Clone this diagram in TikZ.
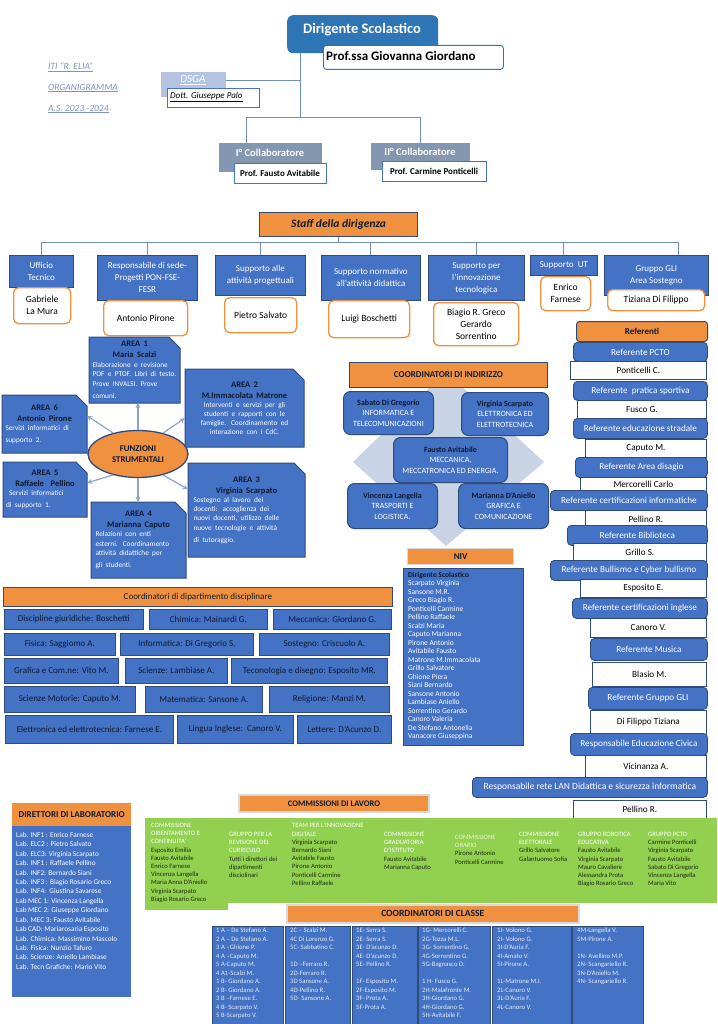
\documentclass[tikz,border=0pt]{standalone}
\usepackage{fontspec}
\setmainfont{Carlito}
\usetikzlibrary{shapes.geometric,arrows.meta,calc}
\definecolor{myblue}{HTML}{4472C4}
\definecolor{navy}{HTML}{2F4B7C}
\definecolor{myorange}{HTML}{F0913F}
\definecolor{mygreen}{HTML}{92D050}
\definecolor{headc}{HTML}{101A30}
\definecolor{dirblue}{HTML}{2E75B6}
\definecolor{slate}{HTML}{8497B0}
\definecolor{dsgac}{HTML}{B4C4E0}
\definecolor{wirec}{HTML}{6F8FC4}
\definecolor{crossc}{HTML}{C9D3E6}
\definecolor{lightgrey}{HTML}{D9D9D9}
\definecolor{arrowc}{HTML}{8EA3C6}
\definecolor{labc}{HTML}{7F93C0}
\definecolor{gname}{HTML}{1E2A10}
\definecolor{ktc}{HTML}{E4ECF7}
\definecolor{paley}{HTML}{EEF5D0}
\newcommand\myfs[2]{\fontsize{#1}{#2}\selectfont}
\newcommand\mybox[7]{\node[#2,anchor=north west,minimum width={(#5)-(#3)},minimum height={(#6)-(#4)}] (#1) at (#3,#4) {#7};}
\newcommand\snipbox[7]{%
  \path[areaf] (#2,#3) -- ({#4-11},#3) -- (#4,{#3+11}) -- (#4,#5) -- (#2,#5) -- cycle;
  \node[inner sep=0pt,minimum width={(#4)-(#2)},minimum height={(#5)-(#3)},text width=#6pt,text=white] (#1) at ({(#2+#4)/2},{(#3+#5)/2}) {#7};}
\newcommand\jl[1]{\hbox to\hsize{#1}}
\newcommand\hdw[1]{\textcolor{white}{#1}}
\begin{document}
\begin{tikzpicture}[x=1pt,y=-1pt,
  every node/.style={inner sep=1pt},
  wire/.style={draw=wirec,line width=0.9pt},
  blueb/.style={draw=navy,fill=myblue,line width=0.8pt,text=white,align=center},
  whiteb/.style={draw=navy,fill=white,line width=0.8pt,text=black,align=center},
  orangeb/.style={draw=navy,fill=myorange,line width=0.8pt,text=headc,align=center},
  staffb/.style={blueb,font=\myfs{9}{12}},
  staffn/.style={fill=white,draw=myorange,line width=1.3pt,rounded corners=5pt,text=black,align=center,font=\myfs{9.5}{12}},
  areaf/.style={fill=myblue,draw=navy,line width=1pt},
  fsarr/.style={draw=arrowc,line width=1.2pt,-{Stealth[length=5pt,width=5pt]}},
  cib/.style={blueb,rounded corners=7pt,line width=1pt,font=\myfs{8}{10.5}},
  refb/.style={blueb,rounded corners=4pt,font=\myfs{9.2}{10}},
  refw/.style={whiteb,font=\myfs{9.2}{10}},
  dipb/.style={blueb,text=headc,font=\myfs{9}{10}},
  colb/.style={draw=navy,fill=myblue,line width=0.9pt},
  gtext/.style={anchor=north west,align=left,text=gname,font=\myfs{6.6}{8.2}},
  ktext/.style={anchor=north west,align=left,text=ktc,font=\myfs{6.7}{8.5}},
  toplab/.style={anchor=west,text=labc,font=\myfs{9.5}{10}\itshape}
]
\useasboundingbox (0,0) rectangle (717,1024);
\fill[white] (0,0) rectangle (717,1024);

% ---------- top left labels
\node[toplab] (iti) at (47,67) {\underline{ITI “R. ELIA”}};
\node[toplab] (org) at (47,88) {\underline{ORGANIGRAMMA}};
\node[toplab] (anno) at (47,109) {\underline{A.S. 2023 -2024}};

% ---------- dirigente
\mybox{dir}{fill=dirblue,rounded corners=6pt}{287}{15}{438}{53}{}
\node[text=white,font=\myfs{14.5}{16}\bfseries] (dirt) at (362,30) {Dirigente Scolastico};
\mybox{dsw}{fill=white,draw=dirblue,line width=0.9pt,rounded corners=3pt}{323}{45}{503}{69}{}
\node[anchor=west,font=\myfs{13}{14}\bfseries] (dsn) at (325,56) {Prof.ssa Giovanna Giordano};

% ---------- DSGA
\mybox{dsga}{fill=dsgac}{161}{72}{226}{97}{}
\node[text=white,font=\myfs{11}{12}\itshape] (dsgat) at (193,80) {\underline{DSGA}};
\mybox{dsgaw}{fill=white,draw=myblue,line width=0.8pt}{167}{88}{259}{107}{}
\node[anchor=west,font=\myfs{9}{10}\itshape] (dsgan) at (169,97) {\underline{Dott. Giuseppe Palo}};

% ---------- collaboratori
\mybox{c1}{fill=slate}{219}{143}{322}{172}{}
\node[text=white,font=\myfs{10.5}{12}\bfseries] (c1t) at (270,153) {I° Collaboratore};
\mybox{c1w}{fill=white,draw=myblue,line width=0.8pt}{234}{163}{326}{183}{}
\node[font=\myfs{9}{10}\bfseries] (c1n) at (280,173) {Prof. Fausto Avitabile};
\mybox{c2}{fill=slate}{371}{143}{470}{170}{}
\node[text=white,font=\myfs{10.5}{12}\bfseries] (c2t) at (420,152) {II° Collaboratore};
\mybox{c2w}{fill=white,draw=myblue,line width=0.8pt}{382}{161}{486}{181}{}
\node[font=\myfs{9}{10}\bfseries] (c2n) at (434,171) {Prof. Carmine Ponticelli};

\coordinate (dtop) at ($(dir.south west)+(13,0)$);
\coordinate (bus1) at (0,117);
\coordinate (dsgaj) at ($(dsga.east)+(0,-4)$);
\coordinate (c1j) at ($(c1.north west)+(27,0)$);
\coordinate (c2j) at ($(c2.north west)+(49,0)$);
\draw[wire] (dtop) -- (dtop |- bus1);
\draw[wire] (dsgaj) -- (dsgaj -| dtop);
\draw[wire] (c1j) -- (c1j |- bus1) -- (c2j |- bus1) -- (c2j);

% ---------- staff
\mybox{staff}{orangeb,line width=1.2pt,font=\myfs{11.5}{13}\bfseries\itshape}{259}{212}{417}{236}{Staff della dirigenza}
\mybox{s1}{staffb}{9}{255}{73}{287}{Ufficio\\Tecnico}
\mybox{s2}{staffb}{97}{255}{197}{300}{Responsabile di sede-\\Progetti PON-FSE-\\FESR}
\mybox{s3}{staffb}{215}{255}{305}{295}{Supporto alle\\attività progettuali}
\mybox{s4}{staffb}{321}{255}{420}{300}{Supporto normativo\\all'attività didattica}
\mybox{s5}{staffb}{428}{255}{524}{300}{Supporto per\\l'innovazione\\tecnologica}
\mybox{s6}{staffb}{530}{255}{597}{275}{Supporto~~UT}
\mybox{s7}{staffb}{604}{255}{708}{295}{Gruppo GLI\\Area Sostegno}
\mybox{n1}{staffn}{13}{287}{70}{323}{Gabriele\\La Mura}
\mybox{n2}{staffn}{103}{300}{187}{335}{Antonio Pirone}
\mybox{n3}{staffn}{224}{297}{296}{332}{Pietro Salvato}
\mybox{n4}{staffn}{328}{300}{409}{337}{Luigi Boschetti}
\mybox{n5}{staffn}{433}{302}{518}{345}{Biagio R. Greco\\Gerardo\\Sorrentino}
\mybox{n6}{staffn}{540}{276}{590}{310}{Enrico\\Farnese}
\mybox{n7}{staffn}{607}{289}{704}{310}{Tiziana Di Filippo}
\coordinate (bus2) at (0,242);
\coordinate (s7j) at ($(s7.north east)+(-30,0)$);
\draw[wire] (staff.south) -- (staff.south |- bus2);
\draw[wire] (s1.north) -- (s1.north |- bus2) -- (s7j |- bus2) -- (s7j);
\foreach \s in {s2,s3,s4,s5,s6} \draw[wire] (\s.north) -- (\s.north |- bus2);

% ---------- funzioni strumentali
\snipbox{a1}{89}{337}{180}{403}{84}{{\centering\leavevmode\color{headc}\bfseries\myfs{8.5}{11}AREA 1\\Maria Scalzi\par}\myfs{7.3}{9.5}\jl{Elaborazione e revisione}\jl{POF e PTOF. Libri di testo.}\jl{Prove INVALSI. Prove}comuni.}
\snipbox{a2}{185}{369}{304}{447}{112}{{\centering\leavevmode\color{headc}\bfseries\myfs{8.5}{11}AREA 2\\M.Immacolata Matrone\par}{\centering\myfs{7.3}{9}Interventi e servizi per gli\\studenti e rapporti con le\\famiglie. Coordinamento ed\\interazione con i CdC.\par}}
\snipbox{a6}{2}{395}{87}{453}{78}{{\centering\leavevmode\color{headc}\bfseries\myfs{8.5}{11}AREA 6\\Antonio Pirone\par}\myfs{7.3}{9.5}Servizi informatici di\\supporto 2.}
\snipbox{a5}{3}{462}{87}{517}{78}{{\centering\leavevmode\color{headc}\bfseries\myfs{8.5}{11}AREA 5\\Raffaele~~Pellino\par}\myfs{7.3}{9.5}\hspace*{3pt}Servizi informatici\\di supporto 1.}
\snipbox{a4}{91}{502}{186}{578}{86}{{\centering\leavevmode\color{headc}\bfseries\myfs{8.5}{11}AREA 4\\Marianna Caputo\par}\myfs{7.3}{9.3}\jl{Relazioni con enti}\jl{esterni. Coordinamento}\jl{attività didattiche per}gli studenti.}
\snipbox{a3}{188}{463}{305}{557}{106}{{\centering\leavevmode\color{headc}\bfseries\myfs{8.5}{11}AREA 3\\Virginia Scarpato\par}\myfs{7.3}{9.3}\jl{Sostegno al lavoro dei}\jl{docenti: accoglienza dei}\jl{nuovi docenti, utilizzo delle}\jl{nuove tecnologie e attività}di tutoraggio.}
\node[ellipse,draw=navy,line width=1.3pt,fill=myorange,minimum width=100pt,minimum height=47pt,inner sep=0pt,align=center,font=\myfs{8.8}{10.5}\bfseries,text=headc] (fs) at (138,454) {FUNZIONI\\STRUMENTALI};
\draw[fsarr] (fs.north) -- (fs.north |- a1.south);
\draw[fsarr] (fs.south) -- (fs.south |- a4.north);
\draw[fsarr] (fs.40) -- ($(a2.south west)!0.37!(a2.north west)$);
\draw[fsarr] (fs.140) -- ($(a6.south east)!0.64!(a6.north east)$);
\draw[fsarr] (fs.220) -- ($(a5.south east)!0.62!(a5.north east)$);
\draw[fsarr] (fs.320) -- ($(a3.south west)!0.72!(a3.north west)$);

% ---------- coordinatori di indirizzo
\path[fill=crossc] (353,462) -- (446,372) -- (544,462) -- (446,546) -- cycle;
\mybox{cih}{orangeb,line width=1pt,font=\myfs{9}{10}\bfseries}{349}{362}{547}{387}{COORDINATORI DI INDIRIZZO}
\mybox{ci1}{cib}{343}{391}{433}{434}{{\bfseries\color{headc}Sabato Di Gregorio}\\INFORMATICA E\\TELECOMUNICAZIONI}
\mybox{ci2}{cib}{461}{392}{548}{435}{{\bfseries\color{headc}Virginia Scarpato}\\ELETTRONICA ED\\ELETTROTECNICA}
\mybox{ci3}{cib}{393}{437}{507}{482}{{\bfseries\color{headc}Fausto Avitabile}\\MECCANICA,\\MECCATRONICA ED ENERGIA.}
\mybox{ci4}{cib}{347}{483}{437}{528}{{\bfseries\color{headc}Vincenza Langella}\\TRASPORTI E\\LOGISTICA.}
\mybox{ci5}{cib}{458}{483}{548}{528}{{\bfseries\color{headc}Marianna D’Aniello}\\GRAFICA E\\COMUNICAZIONE}

% ---------- NIV
\mybox{nivh}{fill=myorange,draw=lightgrey,line width=1.2pt,text=headc,font=\myfs{9}{10}\bfseries}{407}{548}{513}{564}{NIV}
\mybox{nivb}{blueb}{403}{568}{523}{745}{}
\node[anchor=north west,align=left,text=white,font=\myfs{7.5}{8.5}] (nivt) at (407,571) {{\color{headc}\bfseries Dirigente Scolastico}\\Scarpato Virginia\\Sansone M.R.\\Greco Biagio R.\\Ponticelli Carmine\\Pellino Raffaele\\Scalzi Maria\\Caputo Marianna\\Pirone Antonio\\Avitabile Fausto\\Matrone M.Immacolata\\Grillo Salvatore\\Ghione Piera\\Siani Bernardo\\Sansone Antonio\\Lambiase Aniello\\Sorrentino Gerardo\\Canoro Valeria\\De Stefano Antonella\\Vanacore Giuseppina};

% ---------- referenti
\mybox{refh}{orangeb,rounded corners=3pt,line width=1pt,font=\myfs{9}{10}\bfseries}{576}{321}{707}{341}{Referenti}
\mybox{r1}{refb}{573}{342}{707}{361}{Referente PCTO}
\mybox{r2}{refw}{570}{361}{706}{379}{Ponticelli C.}
\mybox{r3}{refb}{573}{381}{707}{400}{Referente~~pratica sportiva}
\mybox{r4}{refw}{577}{400}{706}{418}{Fusco G.}
\mybox{r5}{refb}{573}{418}{707}{438}{Referente educazione stradale}
\mybox{r6}{refw}{585}{439}{706}{457}{Caputo M.}
\mybox{r7}{refb}{575}{457}{707}{477}{Referente Area disagio}
\mybox{r8}{refw}{580}{477}{706}{491}{Mercorelli Carlo}
\mybox{r9}{refb}{550}{490}{707}{510}{Referente certificazioni informatiche}
\mybox{r10}{refw}{585}{510}{706}{528}{Pellino R.}
\mybox{r11}{refb}{567}{525}{707}{545}{Referente Biblioteca}
\mybox{r12}{refw}{573}{543}{706}{561}{Grillo S.}
\mybox{r13}{refb}{550}{560}{707}{580}{Referente Bullismo e Cyber bullismo}
\mybox{r14}{refw}{580}{579}{706}{597}{Esposito E.}
\mybox{r15}{refb}{572}{598}{707}{618}{Referente certificazioni inglese}
\mybox{r16}{refw}{590}{618}{706}{637}{Canoro V.}
\mybox{r17}{refb}{590}{638}{707}{660}{Referente Musica}
\mybox{r18}{refw}{592}{662}{706}{686}{Blasio M.}
\mybox{r19}{refb}{588}{687}{707}{709}{Referente Gruppo GLI}
\mybox{r20}{refw}{590}{710}{706}{734}{Di Filippo Tiziana}
\mybox{r21}{refb}{570}{733}{707}{755}{Responsabile Educazione Civica}
\mybox{r22}{refw}{585}{755}{706}{777}{Vicinanza A.}
\mybox{r23}{refb,font=\myfs{9.5}{10}}{472}{777}{707}{797}{Responsabile rete LAN Didattica e sicurezza informatica}
\mybox{r24}{refw}{573}{800}{706}{818}{Pellino R.}

% ---------- dipartimento
\mybox{dh}{orangeb,font=\myfs{9}{10}}{3}{587}{392}{606}{Coordinatori di dipartimento disciplinare}
\mybox{d11}{dipb}{4}{609}{143}{629}{Discipline giuridiche: Boschetti}
\mybox{d12}{dipb}{149}{609}{267}{629}{Chimica: Mainardi G.}
\mybox{d13}{dipb}{273}{609}{391}{629}{Meccanica: Giordano G.}
\mybox{d21}{dipb}{4}{633}{115}{655}{Fisica: Saggiomo A.}
\mybox{d22}{dipb}{120}{633}{253}{655}{Informatica: Di Gregorio S.}
\mybox{d23}{dipb}{259}{633}{389}{655}{Sostegno: Criscuolo A.}
\mybox{d31}{dipb}{4}{658}{118}{683}{Grafica e Com.ne: Vito M.}
\mybox{d32}{dipb}{125}{658}{227}{683}{Scienze: Lambiase A.}
\mybox{d33}{dipb}{231}{658}{387}{683}{Teconologia e disegno: Esposito MR.}
\mybox{d41}{dipb}{4}{686}{135}{712}{Scienze Motorie: Caputo M.}
\mybox{d42}{dipb}{145}{686}{262}{712}{Matematica: Sansone A.}
\mybox{d43}{dipb}{269}{686}{389}{712}{Religione: Manzi M.}
\mybox{d51}{dipb}{5}{715}{173}{743}{Elettronica ed elettrotecnica: Farnese E.}
\mybox{d52}{dipb}{177}{715}{293}{743}{Lingua Inglese:~~Canoro V.}
\mybox{d53}{dipb}{297}{715}{391}{743}{Lettere: D’Acunzo D.}

% ---------- direttori di laboratorio
\mybox{lh}{fill=myorange,text=headc,font=\myfs{9}{10}\bfseries}{12}{803}{131}{826}{DIRETTORI DI LABORATORIO}
\mybox{lb}{fill=myblue}{12}{826}{131}{997}{}
\node[anchor=north west,align=left,text=white,font=\myfs{7.3}{9.43}] (lt) at (15,831) {Lab. INF1 : Enrico Farnese\\Lab. ELC2 : Pietro Salvato\\Lab. ELC3: Virginia Scarpato\\Lab. INF1 : Raffaele Pellino\\Lab. INF2: Bernardo Siani\\Lab. INF3 : Biagio Rosario Greco\\Lab. INF4:~~Giustina Savarese\\Lab MEC 1: Vincenza Langella\\Lab MEC 2: Giuseppe Giordano\\Lab. MEC 3: Fausto Avitabile\\Lab CAD: Mariarosaria Esposito\\Lab. Chimica: Massimino Mascolo\\Lab. Fisica: Nunzio Tafuro\\Lab. Scienze: Aniello Lambiase\\Lab. Tecn Grafiche: Mario Vito};

% ---------- commissioni di lavoro
\mybox{ch}{fill=myorange,draw=lightgrey,line width=2pt,text=headc,font=\myfs{8.5}{10}\bfseries}{238}{794}{428}{811}{COMMISSIONI DI LAVORO}
\path[fill=mygreen] (145,818) rectangle (717,903);
\path[fill=mygreen] (145,903) rectangle (228,910);
\node[gtext] (g1) at (150,822) {\hdw{COMMISSIONE}\\\hdw{ORIENTAMENTO E}\\\hdw{CONTINUITA’}\\Esposito Emilia\\Fausto Avitabile\\Enrico Farnese\\Vincenza Langella\\Maria Anna D’Aniello\\Virginia Scarpato\\Biagio Rosario Greco};
\node[gtext] (g2) at (228,831) {\hdw{GRUPPO PER LA}\\\hdw{REVISIONE DEL}\\\hdw{CURRICULO}\\Tutti i direttori dei\\dipartimenti\\disciolinari};
\node[gtext] (g3) at (291,822) {\hdw{TEAM PER L’INNOVAZIONE}\\\hdw{DIGITALE}\\Virginia Scarpato\\Bernardo Siani\\Avitabile Fausto\\Pirone Antonio\\Ponticelli Carmine\\Pellino Raffaele};
\node[gtext] (g4) at (383,831) {\hdw{COMMISSIONE}\\\hdw{GRADUATORIA}\\\hdw{D’ISTITUTO}\\Fausto Avitabile\\Marianna Caputo};
\node[gtext] (g5) at (454,834) {\textcolor{paley}{COMMISSIONE}\\\textcolor{paley}{ORARIO}\\Pirone Antonio\\Ponticelli Carmine};
\node[gtext] (g6) at (518,831) {\hdw{COMMISSIONE}\\\hdw{ELETTORALE}\\Grillo Salvatore\\Galantuomo Sofia};
\node[gtext] (g7) at (577,831) {\hdw{GRUPPO ROBOTICA}\\\hdw{EDUCATIVA}\\Fausto Avitabile\\Virginia Scarpato\\Mauro Cavaliere\\Alessandra Prota\\Biagio Rosario Greco};
\node[gtext] (g8) at (647,831) {\hdw{GRUPPO PCTO}\\Carmine Ponticelli\\Virginia Scarpato\\Fausto Avitabile\\Sabato Di Gregorio\\Vincenza Langella\\Maria Vito};

% ---------- coordinatori di classe
\mybox{kh}{fill=myorange,draw=lightgrey,line width=1.5pt,text=headc,font=\myfs{9.5}{11}\bfseries}{286}{904}{578}{922}{COORDINATORI DI CLASSE}
\mybox{k1}{colb}{212}{926}{283}{1030}{}
\mybox{k2}{colb}{285}{926}{350}{1030}{}
\mybox{k3}{colb}{352}{926}{417}{1030}{}
\mybox{k4}{colb}{418}{926}{490}{1030}{}
\mybox{k5}{colb}{492}{926}{571}{1030}{}
\mybox{k6}{colb}{572}{926}{643}{1030}{}
\node[ktext] (k1t) at (215,927) {1 A – De Stefano A.\\2 A – De Stefano A.\\3 A –Ghione P.\\4 A –Caputo M.\\5 A-Caputo M.\\4 A1-Scalzi M.\\1 B- Giordano A.\\2 B- Giordano A.\\3 B –Farnese E.\\4 B- Scarpato V.\\5 B-Scarpato V.};
\node[ktext] (k2t) at (289,927) {2C – Scalzi M.\\4C Di Lorenzo G.\\5C- Sabbatino C.\\[8.5pt]1D –Ferraro R.\\2D-Ferraro R.\\3D Sansone A.\\4D-Pellino R.\\5D- Sansone A.};
\node[ktext] (k3t) at (355,927) {1E- Serra S.\\2E- Serra S.\\3E- D’acunzo D.\\4E- D’acunzo D.\\5E- Pellino R.\\[8.5pt]1F- Esposito M.\\2F-Esposito M.\\3F- Prota A.\\5F-Prota A.};
\node[ktext] (k4t) at (421,927) {1G- Mercorelli C.\\2G-Tozza M.L.\\3G- Sorrentino G.\\4G-Sorrentino G.\\5G-Bagnasco D.\\[8.5pt]1 H- Fusco G.\\2H-Malafronte M.\\3H-Giordano G.\\4H-Giordano G.\\5H-Avitabile F.};
\node[ktext] (k5t) at (496,927) {1I- Volono G.\\2I- Volono G.\\3I-D’Auria F.\\4I-Amato V.\\5I-Pirone A.\\[8.5pt]1L-Matrone M.I.\\2L-Canoro V.\\3L-D’Auria F.\\4L-Canoro V.};
\node[ktext] (k6t) at (576,927) {4M-Langella V.\\5M-Pirone A.\\[8.5pt]1N- Avellino M.P.\\2N- Scangariello R.\\3N-D’Aniello M.\\4N- Scangariello R.};
\end{tikzpicture}
\end{document}
